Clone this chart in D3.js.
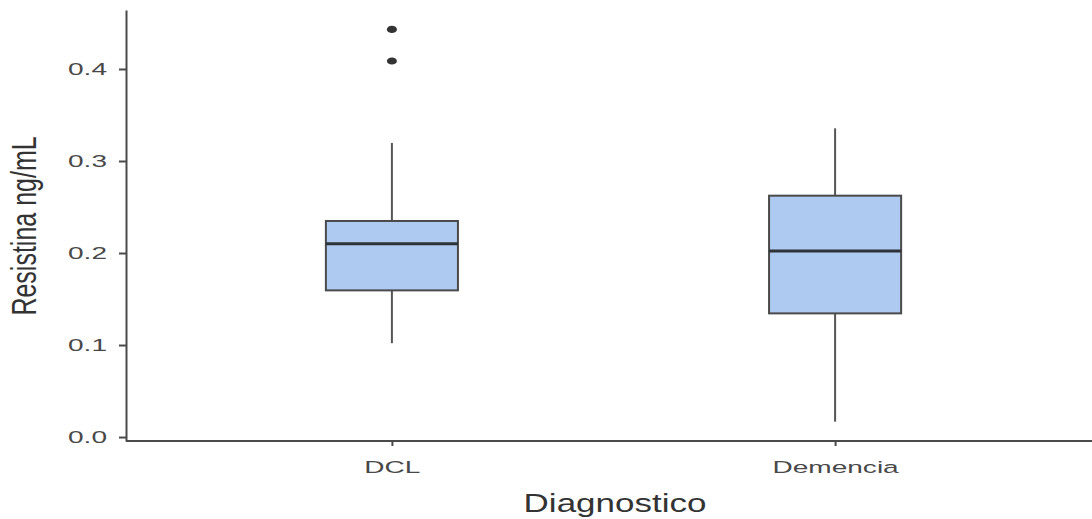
<!DOCTYPE html>
<html><head><meta charset="utf-8">
<script src="https://cdn.jsdelivr.net/npm/d3@7"></script>
<style>
html,body{margin:0;padding:0;background:#fff;}
svg{display:block;}
text{font-family:"Liberation Sans",Arial,sans-serif;}
</style></head>
<body>
<svg id="chart" width="1092" height="519"></svg>
<script>
const categories = ["DCL", "Demencia"];
const whiskerLow  = [0.102, 0.0167];
const q1          = [0.1594, 0.1344];
const median      = [0.210, 0.2022];
const q3          = [0.2348, 0.2623];
const whiskerHigh = [0.3196, 0.3355];
const outliers    = [[0.4087, 0.443], []];
const yTicks = [0.0, 0.1, 0.2, 0.3, 0.4];
const yTickLabels = ["0.0", "0.1", "0.2", "0.3", "0.4"];
const xTitle = "Diagnostico";
const yTitle = "Resistina ng/mL";

const svg = d3.select("#chart");
const sx = 1.7, tsx = 1.4;

const x = d3.scalePoint().domain(categories).range([126, 1101]).padding(0.6);
const y = d3.scaleLinear().domain([-0.0043, 0.4641]).range([441, 10]);
const boxW = x.step() * 0.298;

const data = categories.map((c, i) => ({
  c, lo: whiskerLow[i], q1: q1[i], med: median[i], q3: q3[i], hi: whiskerHigh[i], out: outliers[i]
}));

const g = svg.append("g");
g.selectAll(".wu").data(data).join("line")
  .attr("x1", d => x(d.c)).attr("x2", d => x(d.c))
  .attr("y1", d => y(d.q3)).attr("y2", d => y(d.hi))
  .attr("stroke", "#555").attr("stroke-width", 2);
g.selectAll(".wl").data(data).join("line")
  .attr("x1", d => x(d.c)).attr("x2", d => x(d.c))
  .attr("y1", d => y(d.q1)).attr("y2", d => y(d.lo))
  .attr("stroke", "#555").attr("stroke-width", 2);
g.selectAll(".box").data(data).join("rect")
  .attr("x", d => x(d.c) - boxW / 2).attr("width", boxW)
  .attr("y", d => y(d.q3)).attr("height", d => y(d.q1) - y(d.q3))
  .attr("fill", "#aecaf0").attr("stroke", "#4a4a4a").attr("stroke-width", 2);
g.selectAll(".med").data(data).join("line")
  .attr("x1", d => x(d.c) - boxW / 2).attr("x2", d => x(d.c) + boxW / 2)
  .attr("y1", d => y(d.med)).attr("y2", d => y(d.med))
  .attr("stroke", "#2e3338").attr("stroke-width", 3);
data.forEach(d => {
  g.selectAll(null).data(d.out).join("ellipse")
    .attr("cx", x(d.c)).attr("cy", v => y(v))
    .attr("rx", 5).attr("ry", 3.6).attr("fill", "#333");
});

const yAxis = svg.append("g").attr("transform", "translate(126,0)")
  .call(d3.axisLeft(y).tickValues(yTicks).tickFormat((d, i) => yTickLabels[i]).tickSize(7).tickSizeOuter(0));
yAxis.select(".domain").attr("stroke", "#4a4a4a").attr("stroke-width", 2);
yAxis.selectAll(".tick line").attr("stroke", "#4a4a4a").attr("stroke-width", 2);
yAxis.selectAll(".tick text")
  .attr("x", null).attr("dy", "0.36em")
  .attr("transform", `translate(-19,0) scale(${sx},1)`)
  .attr("font-size", 16.5).attr("fill", "#484848").attr("text-anchor", "end");

const xAxis = svg.append("g").attr("transform", "translate(0,441)")
  .call(d3.axisBottom(x).tickSize(5).tickSizeOuter(0));
xAxis.select(".domain").attr("stroke", "#4a4a4a").attr("stroke-width", 2).attr("d", "M126,0H1101");
xAxis.selectAll(".tick line").attr("stroke", "#4a4a4a").attr("stroke-width", 2);
xAxis.selectAll(".tick text")
  .attr("y", null).attr("dy", null)
  .attr("transform", `translate(0,32) scale(${sx},1)`)
  .attr("font-size", 16.5).attr("fill", "#484848").attr("text-anchor", "middle");

svg.append("text").text(xTitle)
  .attr("transform", `translate(615,512) scale(${tsx},1)`)
  .attr("text-anchor", "middle").attr("font-size", 25).attr("fill", "#333");
svg.append("text").text(yTitle)
  .attr("transform", `translate(36,226) scale(${tsx},1) rotate(-90)`)
  .attr("text-anchor", "middle").attr("font-size", 25).attr("fill", "#333");
</script>
</body></html>
